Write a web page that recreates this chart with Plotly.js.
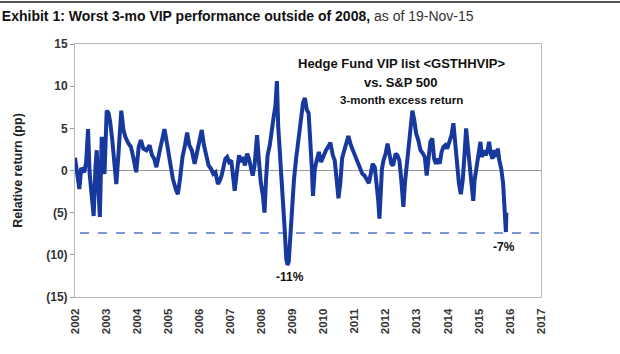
<!DOCTYPE html>
<html>
<head>
<meta charset="utf-8">
<script src="https://cdn.plot.ly/plotly-3.0.1.min.js"></script>
<style>
html,body{margin:0;padding:0;background:#fff;}
#chart{width:620px;height:354px;}
</style>
</head>
<body>
<div id="chart"></div>
<script>
// Decimal year of each observation
const t = [
2002.00,2002.04,2002.10,2002.14,2002.20,2002.30,2002.36,2002.42,2002.47,2002.55,2002.60,2002.66,2002.70,2002.75,2002.80,2002.86,2002.90,2002.95,
2003.02,2003.08,2003.13,2003.20,2003.27,2003.33,2003.40,2003.49,2003.56,2003.62,2003.72,2003.80,2003.88,2003.97,
2004.05,2004.12,2004.20,2004.30,2004.40,2004.48,2004.55,2004.62,2004.72,2004.80,2004.88,2004.96,
2005.05,2005.15,2005.25,2005.31,2005.38,2005.46,2005.54,2005.61,2005.68,2005.76,2005.85,2005.93,
2006.02,2006.08,2006.15,2006.22,2006.30,2006.38,2006.45,2006.52,2006.60,2006.66,2006.72,2006.78,2006.84,2006.90,2006.96,
2007.03,2007.08,2007.14,2007.20,2007.28,2007.34,2007.40,2007.47,2007.54,2007.60,2007.66,2007.72,2007.78,2007.86,2007.92,2007.98,
2008.05,2008.10,2008.15,2008.20,2008.27,2008.34,2008.40,2008.45,2008.50,2008.54,2008.60,2008.65,2008.70,2008.75,2008.80,2008.84,2008.88,2008.92,2008.98,
2009.05,2009.12,2009.20,2009.28,2009.34,2009.40,2009.46,2009.52,2009.57,2009.62,2009.66,2009.72,2009.78,2009.85,2009.92,
2010.00,2010.08,2010.15,2010.22,2010.30,2010.36,2010.42,2010.48,2010.54,2010.60,2010.67,2010.74,2010.80,2010.88,2010.95,
2011.02,2011.10,2011.18,2011.25,2011.32,2011.40,2011.46,2011.52,2011.58,2011.65,2011.70,2011.76,2011.80,2011.84,2011.88,2011.93,
2012.00,2012.06,2012.12,2012.18,2012.24,2012.32,2012.38,2012.44,2012.50,2012.57,2012.62,2012.68,2012.74,2012.80,2012.86,2012.92,2012.98,
2013.05,2013.12,2013.20,2013.26,2013.32,2013.38,2013.44,2013.50,2013.56,2013.62,2013.68,2013.74,2013.80,2013.86,2013.92,2013.98,
2014.05,2014.12,2014.18,2014.24,2014.30,2014.36,2014.42,2014.48,2014.54,2014.59,2014.64,2014.70,2014.76,2014.82,2014.86,2014.92,2014.98,
2015.05,2015.10,2015.16,2015.22,2015.28,2015.33,2015.38,2015.44,2015.50,2015.56,2015.61,2015.66,2015.72,2015.78,2015.82,2015.85,2015.87,2015.885
];
// 3-month excess return of the Hedge Fund VIP list vs. S&P 500 (pp)
const rel = [
1.5,0.5,-1.2,-2.2,0.3,-0.2,1.0,4.9,-0.3,-3.5,-5.4,0.5,2.4,-2.0,-5.5,4.0,0.5,-0.4,
7.1,6.8,5.8,3.6,0.5,-1.6,2.0,7.1,4.8,4.0,3.2,2.8,1.5,-0.2,
2.8,3.6,2.6,2.4,3.0,1.8,1.4,0.4,2.2,3.4,4.9,3.2,
1.2,-1.0,-2.3,-2.8,-1.0,1.6,3.0,4.5,3.0,2.4,0.8,2.2,
3.8,4.8,3.0,1.8,0.6,0.2,-0.4,-0.2,-1.6,-1.2,-0.6,0.4,1.4,1.6,1.0,
1.2,-0.8,-2.4,-0.5,1.8,1.0,1.6,0.6,2.0,1.4,0.2,-0.6,0.6,4.2,1.2,-1.4,
-3.0,-5.0,-1.0,1.8,3.0,5.2,6.5,7.6,10.6,5.3,2.0,0.0,-3.0,-7.0,-10.5,-11.2,-10.8,-8.5,-4.5,
-1.0,1.5,4.0,6.5,8.0,8.6,7.2,6.8,4.3,0.5,-3.0,0.2,1.2,2.2,1.0,
1.8,2.4,2.8,3.3,1.8,1.2,-1.0,-3.3,-1.5,1.5,2.4,3.4,4.1,3.0,2.4,
1.6,1.0,0.2,-0.4,-0.6,-1.2,-1.5,-0.4,0.8,0.4,-1.0,-3.5,-5.7,-2.0,0.2,1.2,
2.0,3.2,2.2,0.8,0.6,2.0,1.8,1.2,-1.0,-4.3,-1.5,0.6,3.2,5.0,7.1,6.0,4.4,
3.6,2.4,2.0,1.6,-0.6,1.6,3.4,3.8,1.4,0.8,1.4,0.8,2.2,2.8,3.0,2.6,
3.4,4.2,5.6,3.0,0.4,-1.6,-2.8,-1.2,2.0,5.0,3.0,0.8,-0.8,-3.6,-1.2,0.4,1.8,
3.4,1.6,2.4,1.8,2.4,3.4,2.0,1.4,2.4,1.6,2.6,1.2,0.2,-1.5,-4.5,-5.8,-7.3,-5.0
];
const latestLevel = -7.4;
const yTickVals = [-15,-10,-5,0,5,10,15];
const yTickText = ["(15)","(10)","(5)","0","5","10","15"];
const xTickVals = [2002,2003,2004,2005,2006,2007,2008,2009,2010,2011,2012,2013,2014,2015,2016,2017];

const FONT = '"Liberation Sans", Arial, sans-serif';
const trace = {
  x: t, y: rel, type: 'scatter', mode: 'lines',
  line: {color: '#17389c', width: 4},
  hoverinfo: 'x+y', showlegend: false
};

const pw = 466, ph = 253;
const layout = {
  width: 620, height: 354,
  margin: {l: 75, r: 79, t: 44, b: 57, pad: 0},
  paper_bgcolor: '#fff', plot_bgcolor: '#fff',
  font: {family: FONT, size: 12, color: '#222'},
  title: {
    text: '<b>Exhibit 1: Worst 3-mo VIP performance outside of 2008,</b><span style="color:#333"> as of 19-Nov-15</span>',
    font: {family: FONT, size: 14, color: '#111'},
    x: 0.003, xanchor: 'left', xref: 'container',
    y: 1 - 16/354, yanchor: 'middle', yref: 'container'
  },
  xaxis: {
    range: [2002, 2017], tickvals: xTickVals, ticktext: xTickVals.map(String),
    tickangle: -90, ticks: '', ticklabelstandoff: 6, showgrid: false, zeroline: false,
    showline: true, mirror: true, linecolor: '#b8b8b8', linewidth: 1,
    tickfont: {family: FONT, size: 11.5, color: '#333', weight: 'bold'}
  },
  yaxis: {
    range: [-15, 15], tickvals: yTickVals, ticktext: yTickText,
    ticks: 'outside', ticklen: 4, tickcolor: '#999',
    showgrid: false, zeroline: true, zerolinecolor: '#999', zerolinewidth: 1,
    showline: true, mirror: true, linecolor: '#b8b8b8', linewidth: 1,
    tickfont: {family: FONT, size: 12, color: '#333', weight: 'bold'},
    title: {text: '<b>Relative return (pp)</b>', font: {family: FONT, size: 12.5, color: '#222'}, standoff: 20}
  },
  shapes: [
    {type: 'line', xref: 'x', yref: 'y', x0: 2002.16, x1: 2017, y0: latestLevel, y1: latestLevel,
     line: {color: '#7d97d6', width: 2, dash: 'dash'}, layer: 'below'},
    {type: 'line', xref: 'paper', yref: 'paper', x0: -75/pw, x1: 545/pw, y0: (297-2)/ph, y1: (297-2)/ph,
     line: {color: '#555', width: 2}}
  ],
  annotations: [
    {text: '<b>Hedge Fund VIP list &lt;GSTHHVIP&gt;</b>', xref: 'paper', yref: 'paper',
     x: (401-75)/pw, y: (297-63)/ph, showarrow: false, xanchor: 'center', yanchor: 'middle',
     font: {family: FONT, size: 13, color: '#111'}},
    {text: '<b>vs. S&amp;P 500</b>', xref: 'paper', yref: 'paper',
     x: (400-75)/pw, y: (297-82)/ph, showarrow: false, xanchor: 'center', yanchor: 'middle',
     font: {family: FONT, size: 13, color: '#111'}},
    {text: '<b>3-month excess return</b>', xref: 'paper', yref: 'paper',
     x: (401-75)/pw, y: (297-100)/ph, showarrow: false, xanchor: 'center', yanchor: 'middle',
     font: {family: FONT, size: 11.5, color: '#111'}},
    {text: '<b>-11%</b>', xref: 'paper', yref: 'paper',
     x: (290-75)/pw, y: (297-277)/ph, showarrow: false, xanchor: 'center', yanchor: 'middle',
     font: {family: FONT, size: 12, color: '#111'}},
    {text: '<b>-7%</b>', xref: 'paper', yref: 'paper',
     x: (504-75)/pw, y: (297-247)/ph, showarrow: false, xanchor: 'center', yanchor: 'middle',
     font: {family: FONT, size: 12, color: '#111'}}
  ]
};

Plotly.newPlot('chart', [trace], layout, {displayModeBar: false, staticPlot: true});
</script>
</body>
</html>
